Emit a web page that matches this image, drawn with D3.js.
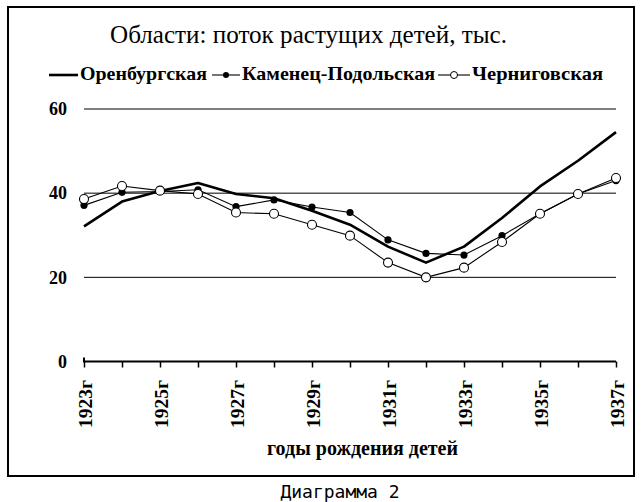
<!DOCTYPE html>
<html><head><meta charset="utf-8">
<script src="https://cdn.jsdelivr.net/npm/d3@7"></script>
<style>
html,body{margin:0;padding:0;background:#fff;}
svg{display:block;}
</style></head>
<body>
<svg id="c" width="642" height="502"></svg>
<script>
const years = [1923,1924,1925,1926,1927,1928,1929,1930,1931,1932,1933,1934,1935,1936,1937];
const orenburg = [32.1,38.0,40.5,42.4,39.8,38.8,35.8,32.5,27.3,23.5,27.3,34.1,41.6,47.7,54.5];
const kamenets = [37.1,40.2,40.4,40.8,36.8,38.4,36.7,35.4,28.9,25.7,25.3,29.9,35.1,39.8,43.0];
const chernigov = [38.6,41.7,40.6,39.8,35.4,35.1,32.5,29.9,23.5,20.0,22.3,28.4,35.1,39.8,43.6];
const yTicks = [0,20,40,60];
const xLabelYears = [1923,1925,1927,1929,1931,1933,1935,1937];
const seriesNames = ["Оренбургская","Каменец-Подольская","Черниговская"];
const titleText = "Области: поток растущих детей, тыс.";
const xTitle = "годы рождения детей";
const caption = "Диаграмма 2";

const svg = d3.select("#c");
const serif = "'Liberation Serif','Times New Roman',serif";

// frame
svg.append("rect").attr("x",8).attr("y",7).attr("width",626).attr("height",469)
  .attr("fill","#fff").attr("stroke","#000").attr("stroke-width",2);

const x = d3.scaleLinear().domain([1923,1937]).range([84,616]);
const y = d3.scaleLinear().domain([0,60]).range([361.5,109]);

// gridlines
svg.append("g").selectAll("line").data(yTicks.filter(d=>d>0)).join("line")
  .attr("x1",x(1923)).attr("x2",x(1937))
  .attr("y1",d=>y(d)).attr("y2",d=>y(d))
  .attr("stroke","#000").attr("stroke-width",1);

// y labels
svg.append("g").selectAll("text").data(yTicks).join("text")
  .attr("x",67).attr("y",d=>y(d)).attr("dy","0.35em")
  .attr("text-anchor","end").attr("font-family",serif).attr("font-weight","bold")
  .attr("font-size",18).text(d=>d);

// x axis
const xAxis = d3.axisBottom(x).tickValues(years).tickSize(6).tickFormat("");
const gx = svg.append("g").attr("transform",`translate(0,${y(0)})`).call(xAxis);
gx.select(".domain").attr("d",`M${x(1923)},-4V0H${x(1937)}V0`).attr("stroke","#000").attr("stroke-width",2);
gx.selectAll(".tick line").attr("stroke","#000").attr("stroke-width",1.5);

// x labels rotated
svg.append("g").selectAll("text").data(xLabelYears).join("text")
  .attr("transform",d=>`translate(${x(d)+1},380) rotate(-90)`)
  .attr("dy","0.35em").attr("text-anchor","end")
  .attr("font-family",serif).attr("font-weight","bold").attr("font-size",19)
  .attr("textLength",48).attr("lengthAdjust","spacingAndGlyphs")
  .text(d=>d+"г");

// x title
svg.append("text").attr("x",267).attr("y",455)
  .attr("font-family",serif).attr("font-weight","bold").attr("font-size",20)
  .attr("textLength",191).attr("lengthAdjust","spacingAndGlyphs").text(xTitle);

// title
svg.append("text").attr("x",110).attr("y",43)
  .attr("font-family",serif).attr("font-size",25)
  .attr("textLength",397).attr("lengthAdjust","spacingAndGlyphs").text(titleText);

// lines
const line = d3.line().x((d,i)=>x(years[i])).y(d=>y(d));
svg.append("path").datum(orenburg).attr("d",line).attr("fill","none")
  .attr("stroke","#000").attr("stroke-width",2.6).attr("stroke-linejoin","round");
svg.append("path").datum(kamenets).attr("d",line).attr("fill","none")
  .attr("stroke","#000").attr("stroke-width",1.1);
svg.append("g").selectAll("circle").data(kamenets).join("circle")
  .attr("cx",(d,i)=>x(years[i])).attr("cy",d=>y(d)).attr("r",3.6).attr("fill","#000");
svg.append("path").datum(chernigov).attr("d",line).attr("fill","none")
  .attr("stroke","#000").attr("stroke-width",1.1);
svg.append("g").selectAll("circle").data(chernigov).join("circle")
  .attr("cx",(d,i)=>x(years[i])).attr("cy",d=>y(d)).attr("r",4.5)
  .attr("fill","#fff").attr("stroke","#000").attr("stroke-width",1.1);

// legend
const legY = 75;
const leg = [
  {name:seriesNames[0], s0:49, s1:78, t0:80, t1:207, type:"thick"},
  {name:seriesNames[1], s0:212, s1:240, t0:242, t1:435, type:"filled"},
  {name:seriesNames[2], s0:438, s1:470, t0:472, t1:603, type:"open"}
];
const lg = svg.append("g");
leg.forEach(L=>{
  lg.append("line").attr("x1",L.s0).attr("x2",L.s1).attr("y1",legY).attr("y2",legY)
    .attr("stroke","#000").attr("stroke-width",L.type==="thick"?2.6:1.1);
  if(L.type==="filled") lg.append("circle").attr("cx",(L.s0+L.s1)/2).attr("cy",legY).attr("r",3).attr("fill","#000");
  if(L.type==="open") lg.append("circle").attr("cx",(L.s0+L.s1)/2).attr("cy",legY).attr("r",3.5)
    .attr("fill","#fff").attr("stroke","#000").attr("stroke-width",1);
  lg.append("text").attr("x",L.t0).attr("y",80).attr("font-family",serif)
    .attr("font-weight","bold").attr("font-size",19)
    .attr("textLength",L.t1-L.t0).attr("lengthAdjust","spacingAndGlyphs").text(L.name);
});

// caption
svg.append("text").attr("x",340).attr("y",498).attr("text-anchor","middle")
  .attr("font-family","'DejaVu Sans Mono',monospace").attr("font-size",18).text(caption);
</script>
</body></html>
